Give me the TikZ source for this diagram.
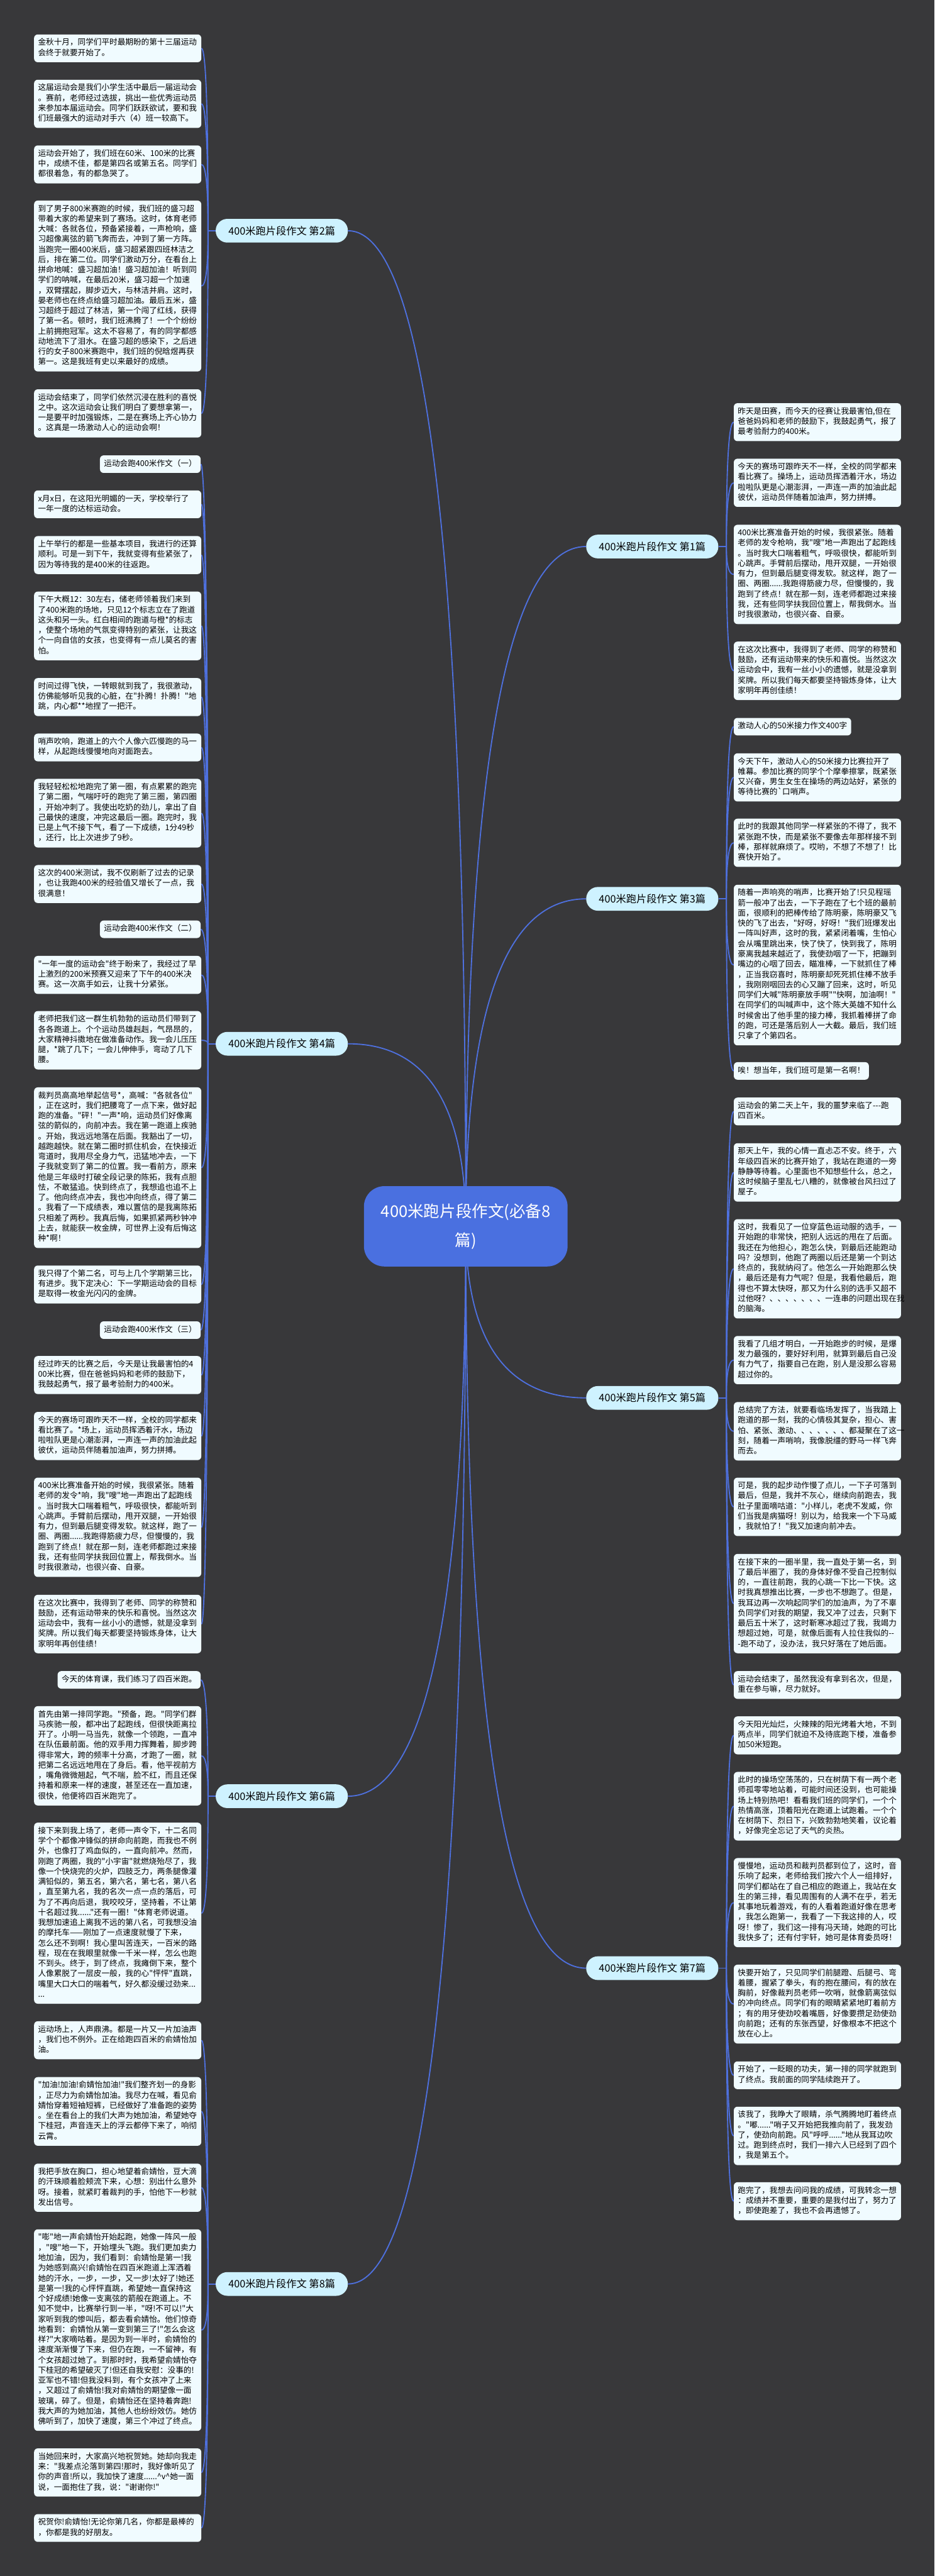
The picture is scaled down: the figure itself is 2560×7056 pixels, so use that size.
\documentclass[tikz,border=0pt]{standalone}
\usepackage{fontspec}
\newfontfamily\cjk{Noto Sans CJK SC}
\usetikzlibrary{calc}
\definecolor{bgc}{RGB}{56,56,58}
\definecolor{leafc}{RGB}{240,251,255}
\definecolor{brc}{RGB}{206,242,255}
\definecolor{linec}{RGB}{78,112,222}
\definecolor{ctrc}{RGB}{74,112,224}
\pgfdeclarelayer{bg}
\pgfsetlayers{bg,main}
\newcommand\myqc[2]{\draw[conn] (#1) .. controls ($(#1)!2/3!(#1 |- #2)$) and ($(#2)!2/3!(#1 |- #2)$) .. (#2);}
\tikzset{
  leaf/.style={fill=leafc, rounded corners=5pt, inner xsep=5.5pt, inner ysep=5pt,
    text width=218pt, align=left, anchor=north west,
    font=\cjk\fontsize{10.875}{14}\selectfont,
    execute at begin node=\strut, execute at end node=\strut},
  ttl/.style={fill=leafc, rounded corners=5pt, inner xsep=5.5pt, inner ysep=5pt,
    font=\cjk\fontsize{10.875}{14}\selectfont,
    execute at begin node=\strut, execute at end node=\strut},
  br/.style={fill=brc, rounded corners=16pt, minimum width=181pt, minimum height=32.5pt,
    inner sep=0pt, font=\cjk\fontsize{14}{16}\selectfont},
  ctrn/.style={fill=ctrc, rounded corners=28pt, text=white, align=center,
    minimum width=279pt, minimum height=110pt, inner sep=0pt,
    font=\cjk\fontsize{22}{40}\selectfont},
  conn/.style={draw=linec, line width=1.6pt},
}
\begin{document}
\begin{tikzpicture}[x=0.5pt,y=-0.5pt]
\useasboundingbox (0,0) rectangle (2560,7056);
% ---------- center and branches
\node[ctrn] (ctr) at (1276,3359) {400米跑片段作文(必备8\\篇)};
\node[br] (b2) at (772,632) {400米跑片段作文 第2篇};
\node[br] (b4) at (772,2859) {400米跑片段作文 第4篇};
\node[br] (b6) at (772,4920) {400米跑片段作文 第6篇};
\node[br] (b8) at (772,6256) {400米跑片段作文 第8篇};
\node[br] (b1) at (1787,1497) {400米跑片段作文 第1篇};
\node[br] (b3) at (1787,2462) {400米跑片段作文 第3篇};
\node[br] (b5) at (1787,3829) {400米跑片段作文 第5篇};
\node[br] (b7) at (1787,5391) {400米跑片段作文 第7篇};
\coordinate (s2) at (570,632);
\coordinate (s4) at (570,2859);
\coordinate (s6) at (570,4920);
\coordinate (s8) at (570,6256);
\coordinate (s1) at (1990,1497);
\coordinate (s3) at (1990,2462);
\coordinate (s5) at (1990,3829);
\coordinate (s7) at (1990,5391);
% ---------- left column
\node[leaf] (l1) at (93,94) {金秋十月，同学们平时最期盼的第十三届运动\\会终于就要开始了。};
\node[leaf] (l2) at (93,218) {这届运动会是我们小学生活中最后一届运动会\\。赛前，老师经过选拔，挑出一些优秀运动员\\来参加本届运动会。同学们跃跃欲试，要和我\\们班最强大的运动对手六（4）班一较高下。};
\node[leaf] (l3) at (93,398) {运动会开始了，我们班在60米、100米的比赛\\中，成绩不佳，都是第四名或第五名。同学们\\都很着急，有的都急哭了。};
\node[leaf] (l4) at (93,549) {到了男子800米赛跑的时候，我们班的盛习超\\带着大家的希望来到了赛场。这时，体育老师\\大喊：各就各位，预备紧接着，一声枪响，盛\\习超像离弦的箭飞奔而去，冲到了第一方阵。\\当跑完一圈400米后，盛习超紧跟四班林洁之\\后，排在第二位。同学们激动万分，在看台上\\拼命地喊：盛习超加油！盛习超加油！听到同\\学们的呐喊，在最后20米，盛习超一个加速\\，双臂摆起，脚步迈大，与林洁并肩。这时，\\晏老师也在终点给盛习超加油。最后五米，盛\\习超终于超过了林洁，第一个闯了红线，获得\\了第一名。顿时，我们班沸腾了！一个个纷纷\\上前拥抱冠军。这太不容易了，有的同学都感\\动地流下了泪水。在盛习超的感染下，之后进\\行的女子800米赛跑中，我们班的倪晗煜再获\\第一。这是我班有史以来最好的成绩。};
\node[leaf] (l5) at (93,1066) {运动会结束了，同学们依然沉浸在胜利的喜悦\\之中。这次运动会让我们明白了要想拿第一，\\一是要平时加强锻炼，二是在赛场上齐心协力\\。这真是一场激动人心的运动会啊！};
\node[ttl,anchor=north east] (l6) at (550,1247) {运动会跑400米作文（一）};
\node[leaf] (l7) at (93,1343) {x月x日，在这阳光明媚的一天，学校举行了\\一年一度的达标运动会。};
\node[leaf] (l8) at (93,1468) {上午举行的都是一些基本项目，我进行的还算\\顺利。可是一到下午，我就变得有些紧张了，\\因为等待我的是400米的往返跑。};
\node[leaf] (l9) at (93,1620) {下午大概12：30左右，储老师领着我们来到\\了400米跑的场地，只见12个标志立在了跑道\\这头和另一头。红白相间的跑道与橙*的标志\\，使整个场地的气氛变得特别的紧张，让我这\\个一向自信的女孩，也变得有一点儿莫名的害\\怕。};
\node[leaf] (l10) at (93,1857) {时间过得飞快，一转眼就到我了，我很激动，\\仿佛能够听见我的心脏，在"扑腾！扑腾！"地\\跳，内心都**地捏了一把汗。};
\node[leaf] (l11) at (93,2009) {哨声吹响，跑道上的六个人像六匹慢跑的马一\\样，从起跑线慢慢地向对面跑去。};
\node[leaf] (l12) at (93,2133) {我轻轻松松地跑完了第一圈，有点累累的跑完\\了第二圈，气喘吁吁的跑完了第三圈，第四圈\\，开始冲刺了。我使出吃奶的劲儿，拿出了自\\己最快的速度，冲完这最后一圈。跑完时，我\\已是上气不接下气，看了一下成绩，1分49秒\\，还行，比上次进步了9秒。};
\node[leaf] (l13) at (93,2369) {这次的400米测试，我不仅刷新了过去的记录\\，也让我跑400米的经验值又增长了一点，我\\很满意！};
\node[ttl,anchor=north east] (l14) at (550,2521) {运动会跑400米作文（二）};
\node[leaf] (l15) at (93,2618) {"一年一度的运动会"终于盼来了，我经过了早\\上激烈的200米预赛又迎来了下午的400米决\\赛。这一次高手如云，让我十分紧张。};
\node[leaf] (l16) at (93,2769) {老师把我们这一群生机勃勃的运动员们带到了\\各各跑道上。个个运动员雄赳赳，气昂昂的，\\大家精神抖擞地在做准备动作。我一会儿压压\\腿，*跳了几下；一会儿伸伸手，弯动了几下\\腰。};
\node[leaf] (l17) at (93,2978) {裁判员高高地举起信号*，高喊："各就各位"\\，正在这时，我们把腰弯了一点下来，做好起\\跑的准备。"砰！"一声*响，运动员们好像离\\弦的箭似的，向前冲去。我在第一跑道上疾驰\\。开始，我远远地落在后面。我豁出了一切，\\越跑越快。就在第二圈时抓住机会，在快接近\\弯道时，我用尽全身力气，迅猛地冲去，一下\\子我就变到了第二的位置。我一看前方，原来\\他是三年级时打破全段记录的陈拓，我有点胆\\怯，不敢猛追。快到终点了，我想追也追不上\\了。他向终点冲去，我也冲向终点，得了第二\\。我看了一下成绩表，难以置信的是我离陈拓\\只相差了两秒。我真后悔，如果抓紧两秒钟冲\\上去，就能获一枚金牌，可世界上没有后悔这\\种*啊！};
\node[leaf] (l18) at (93,3466) {我只得了个第二名，可与上几个学期第三比，\\有进步。我下定决心：下一学期运动会的目标\\是取得一枚金光闪闪的金牌。};
\node[ttl,anchor=north east] (l19) at (550,3619) {运动会跑400米作文（三）};
\node[leaf] (l20) at (93,3714) {经过昨天的比赛之后，今天是让我最害怕的4\\00米比赛，但在爸爸妈妈和老师的鼓励下，\\我鼓起勇气，报了最考验耐力的400米。};
\node[leaf] (l21) at (93,3867) {今天的赛场可跟昨天不一样，全校的同学都来\\看比赛了。*场上，运动员挥洒着汗水，场边\\啦啦队更是心潮澎湃，一声连一声的加油此起\\彼伏，运动员伴随着加油声，努力拼搏。};
\node[leaf] (l22) at (93,4047) {400米比赛准备开始的时候，我很紧张。随着\\老师的发令*响，我"嗖"地一声跑出了起跑线\\。当时我大口喘着粗气，呼吸很快，都能听到\\心跳声。手臂前后摆动，甩开双腿，一开始很\\有力，但到最后腿变得发软。就这样，跑了一\\圈、两圈......我跑得筋疲力尽，但慢慢的，我\\跑到了终点！就在那一刻，连老师都跑过来接\\我，还有些同学扶我回位置上，帮我倒水。当\\时我很激动，也很兴奋、自豪。};
\node[leaf] (l23) at (93,4368) {在这次比赛中，我得到了老师、同学的称赞和\\鼓励，还有运动带来的快乐和喜悦。当然这次\\运动会中，我有一丝小小的遗憾，就是没拿到\\奖牌。所以我们每天都要坚持锻炼身体，让大\\家明年再创佳绩！};
\node[ttl,anchor=north east] (l24) at (550,4577) {今天的体育课，我们练习了四百米跑。};
\node[leaf] (l25) at (93,4673) {首先由第一排同学跑。"预备，跑。"同学们群\\马疾驰一般，都冲出了起跑线，但很快距离拉\\开了。小明一马当先，就像一个领跑，一直冲\\在队伍最前面。他的双手用力挥舞着，脚步跨\\得非常大，跨的频率十分高，才跑了一圈，就\\把第二名远远地甩在了身后。看，他平视前方\\，嘴角微微翘起，气不喘，脸不红，而且还保\\持着和原来一样的速度，甚至还在一直加速，\\很快，他便将四百米跑完了。};
\node[leaf] (l26) at (93,4992) {接下来到我上场了，老师一声令下，十二名同\\学个个都像冲锋似的拼命向前跑，而我也不例\\外，也像打了鸡血似的，一直向前冲。然而，\\刚跑了两圈，我的"小宇宙"就燃烧殆尽了，我\\像一个快烧完的火炉，四肢乏力，两条腿像灌\\满铅似的，第五名，第六名，第七名，第八名\\，直至第九名，我的名次一点一点的落后，可\\为了不再向后退，我咬咬牙，坚持着，不让第\\十名超过我......"还有一圈！"体育老师说道。\\我想加速追上离我不远的第八名，可我想没油\\的摩托车——刚加了一点速度就慢了下来，\\怎么还不到啊！我心里叫苦连天，一百米的路\\程，现在在我眼里就像一千米一样，怎么也跑\\不到头。终于，到了终点，我瘫倒下来，整个\\人像累脱了一层皮一般，我的心"怦怦"直跳，\\嘴里大口大口的喘着气，好久都没缓过劲来...\\...};
\node[leaf] (l27) at (93,5536) {运动场上，人声鼎沸。都是一片又一片加油声\\，我们也不例外。正在给跑四百米的俞婧怡加\\油。};
\node[leaf] (l28) at (93,5689) {"加油!加油!俞婧怡加油!"我们整齐划一的身影\\，正尽力为俞婧怡加油。我尽力在喊，看见俞\\婧怡穿着短袖短裤，已经做好了准备跑的姿势\\。坐在看台上的我们大声为她加油，希望她夺\\下桂冠，声音连天上的浮云都停下来了，响彻\\云霄。};
\node[leaf] (l29) at (93,5926) {我把手放在胸口，担心地望着俞婧怡，豆大滴\\的汗珠顺着脸颊流下来，心想：别出什么意外\\呀。接着，就紧盯着裁判的手，怕他下一秒就\\发出信号。};
\node[leaf] (l30) at (93,6106) {"嘭"地一声俞婧怡开始起跑，她像一阵风一般\\，"嗖"地一下，开始埋头飞跑。我们更加卖力\\地加油，因为，我们看到：俞婧怡是第一!我\\为她感到高兴!俞婧怡在四百米跑道上浑洒着\\她的汗水，一步，一步，又一步!太好了!她还\\是第一!我的心怦怦直跳，希望她一直保持这\\个好成绩!她像一支离弦的箭般在跑道上。不\\知不觉中，比赛举行到一半，"呀!不可以!"大\\家听到我的惨叫后，都去看俞婧怡。他们惊奇\\地看到：俞婧怡从第一变到第三了!"怎么会这\\样?"大家嘀咕着。是因为到一半时，俞婧怡的\\速度渐渐慢了下来，但仍在跑，一不留神，有\\个女孩超过她了。到那时时，我希望俞婧怡夺\\下桂冠的希望破灭了!但还自我安慰：没事的!\\亚军也不错!但我没料到，有个女孩冲了上来\\，又超过了俞婧怡!我对俞婧怡的期望像一面\\玻璃，碎了。但是，俞婧怡还在坚持着奔跑!\\我大声的为她加油，其他人也纷纷效仿。她仿\\佛听到了，加快了速度，第三个冲过了终点。};
\node[leaf] (l31) at (93,6706) {当她回来时，大家高兴地祝贺她。她却向我走\\来："我差点沦落到第四!那时，我好像听见了\\你的声音!所以，我加快了速度......\textasciicircum v\textasciicircum 她一面\\说，一面抱住了我，说："谢谢你!"};
\node[leaf] (l32) at (93,6886) {祝贺你!俞婧怡!无论你第几名，你都是最棒的\\，你都是我的好朋友。};
% ---------- right column
\node[leaf] (r1) at (2010,1104) {昨天是田赛，而今天的径赛让我最害怕,但在\\爸爸妈妈和老师的鼓励下，我鼓起勇气，报了\\最考验耐力的400米。};
\node[leaf] (r2) at (2010,1256) {今天的赛场可跟昨天不一样，全校的同学都来\\看比赛了。操场上，运动员挥洒着汗水，场边\\啦啦队更是心潮澎湃，一声连一声的加油此起\\彼伏，运动员伴随着加油声，努力拼搏。};
\node[leaf] (r3) at (2010,1437) {400米比赛准备开始的时候，我很紧张。随着\\老师的发令枪响，我"嗖"地一声跑出了起跑线\\。当时我大口喘着粗气，呼吸很快，都能听到\\心跳声。手臂前后摆动，甩开双腿，一开始很\\有力，但到最后腿变得发软。就这样，跑了一\\圈、两圈......我跑得筋疲力尽，但慢慢的，我\\跑到了终点！就在那一刻，连老师都跑过来接\\我，还有些同学扶我回位置上，帮我倒水。当\\时我很激动，也很兴奋、自豪。};
\node[leaf] (r4) at (2010,1757) {在这次比赛中，我得到了老师、同学的称赞和\\鼓励，还有运动带来的快乐和喜悦。当然这次\\运动会中，我有一丝小小的遗憾，就是没拿到\\奖牌。所以我们每天都要坚持锻炼身体，让大\\家明年再创佳绩！};
\node[ttl,anchor=north west] (r5) at (2010,1966) {激动人心的50米接力作文400字};
\node[leaf] (r6) at (2010,2063) {今天下午，激动人心的50米接力比赛拉开了\\帷幕。参加比赛的同学个个摩拳擦掌，既紧张\\又兴奋，男生女生在操场的两边站好，紧张的\\等待比赛的`口哨声。};
\node[leaf] (r7) at (2010,2242) {此时的我跟其他同学一样紧张的不得了，我不\\紧张跑不快，而是紧张不要像去年那样接不到\\棒，那样就麻烦了。哎哟，不想了不想了！比\\赛快开始了。};
\node[leaf] (r8) at (2010,2423) {随着一声响亮的哨声，比赛开始了!只见程瑶\\箭一般冲了出去，一下子跑在了七个班的最前\\面，很顺利的把棒传给了陈明豪，陈明豪又飞\\快的飞了出去，"好呀，好呀！"我们班爆发出\\一阵叫好声，这时的我，紧紧闭着嘴，生怕心\\会从嘴里跳出来，快了快了，快到我了，陈明\\豪离我越来越近了，我使劲咽了一下，把蹦到\\嘴边的心咽了回去，瞄准棒，一下就抓住了棒\\，正当我窃喜时，陈明豪却死死抓住棒不放手\\，我刚刚咽回去的心又蹦了回来，这时，听见\\同学们大喊"陈明豪放手啊""快啊，加油啊！"\\在同学们的叫喊声中，这个陈大英雄不知什么\\时候舍出了他手里的接力棒，我抓着棒拼了命\\的跑，可还是落后别人一大截。最后，我们班\\只拿了个第四名。};
\node[ttl,anchor=north west] (r9) at (2010,2909) {唉！想当年，我们班可是第一名啊！};
\node[leaf] (r10) at (2010,3006) {运动会的第二天上午，我的噩梦来临了---跑\\四百米。};
\node[leaf] (r11) at (2010,3131) {那天上午，我的心情一直忐忑不安。终于，六\\年级四百米的比赛开始了，我站在跑道的一旁\\静静等待着。心里面也不知想些什么，总之，\\这时候脑子里乱七八糟的，就像被台风扫过了\\屋子。};
\node[leaf] (r12) at (2010,3339) {这时，我看见了一位穿蓝色运动服的选手，一\\开始跑的非常快，把别人远远的甩在了后面。\\我还在为他担心，跑怎么快，到最后还能跑动\\吗？没想到，他跑了两圈以后还是第一个到达\\终点的，我就纳闷了。他怎么一开始跑那么快\\，最后还是有力气呢？但是，我看他最后，跑\\得也不算太快呀，那又为什么别的选手又超不\\过他呀？、、、、、、、一连串的问题出现在我\\的脑海。};
\node[leaf] (r13) at (2010,3659) {我看了几组才明白，一开始跑步的时候，是爆\\发力最强的，要好好利用，就算到最后自己没\\有力气了，指要自己在跑，别人是没那么容易\\超过你的。};
\node[leaf] (r14) at (2010,3840) {总结完了方法，就要看临场发挥了，当我踏上\\跑道的那一刻，我的心情极其复杂，担心、害\\怕、紧张、激动、、、、、、、都凝聚在了这一\\刻，随着一声哨响，我像脱缰的野马一样飞奔\\而去。};
\node[leaf] (r15) at (2010,4047) {可是，我的起步动作慢了点儿，一下子可落到\\最后，但是，我并不灰心，继续向前跑去，我\\肚子里面嘀咕道："小样儿，老虎不发威，你\\们当我是病猫呀！别以为，给我来一个下马威\\，我就怕了！"我又加速向前冲去。};
\node[leaf] (r16) at (2010,4256) {在接下来的一圈半里，我一直处于第一名，到\\了最后半圈了，我的身体好像不受自己控制似\\的，一直往前跑，我的心跳一下比一下快。这\\时我真想推出比赛，一步也不想跑了。但是，\\我耳边再一次响起同学们的加油声，为了不辜\\负同学们对我的期望，我又冲了过去，只剩下\\最后五十米了，这时靳寒冰超过了我，我竭力\\想超过她，可是，就像后面有人拉住我似的--\\-跑不动了，没办法，我只好落在了她后面。};
\node[leaf] (r17) at (2010,4577) {运动会结束了，虽然我没有拿到名次，但是，\\重在参与嘛，尽力就好。};
\node[leaf] (r18) at (2010,4701) {今天阳光灿烂，火辣辣的阳光烤着大地，不到\\两点半，同学们就迫不及待底跑下楼，准备参\\加50米短跑。};
\node[leaf] (r19) at (2010,4853) {此时的操场空荡荡的，只在树荫下有一两个老\\师孤零零地站着，可能时间还没到，也可能操\\场上特别热吧！看看我们班的同学们，一个个\\热情高涨，顶着阳光在跑道上试跑着。一个个\\在树荫下、烈日下，兴致勃勃地笑着，议论着\\，好像完全忘记了天气的炎热。};
\node[leaf] (r20) at (2010,5089) {慢慢地，运动员和裁判员都到位了，这时，音\\乐响了起来，老师给我们按六个人一组排好，\\同学们都站在了自己相应的跑道上，我站在女\\生的第三排，看见周围有的人满不在乎，若无\\其事地玩着游戏，有的人看着跑道好像在思考\\，我怎么跑第一，我看了一下我这排的人，哎\\呀！惨了，我们这一排有冯天琦，她跑的可比\\我快多了；还有付宇轩，她可是体育委员呀！};
\node[leaf] (r21) at (2010,5381) {快要开始了，只见同学们前腿蹬、后腿弓、弯\\着腰，握紧了拳头，有的抱在腰间，有的放在\\胸前，好像裁判员老师一吹哨，就像箭离弦似\\的冲向终点。同学们有的眼睛紧紧地盯着前方\\；有的用牙使劲咬着嘴唇，好像要攒足劲使劲\\向前跑；还有的东张西望，好像根本不把这个\\放在心上。};
\node[leaf] (r22) at (2010,5646) {开始了，一眨眼的功夫，第一排的同学就跑到\\了终点。我前面的同学陆续跑开了。};
\node[leaf] (r23) at (2010,5770) {该我了，我睁大了眼睛，杀气腾腾地盯着终点\\。"嘟......"哨子又开始把我推向前了，我发劲\\了，使劲向前跑。风"呼呼......"地从我耳边吹\\过。跑到终点时，我们一排六人已经到了四个\\，我是第五个。};
\node[leaf] (r24) at (2010,5977) {跑完了，我想去问问我的成绩，可我转念一想\\：成绩并不重要，重要的是我付出了，努力了\\，即使跑差了，我也不会再遗憾了。};
% ---------- connectors
\begin{pgfonlayer}{bg}
\fill[bgc] (0,0) rectangle (2560,7056);
\foreach \b in {b2,b4,b6,b8} {\myqc{ctr.center}{\b.east}}
\foreach \b in {b1,b3,b5,b7} {\myqc{ctr.center}{\b.west}}
\foreach \n in {2,4,6,8} {\draw[conn] (b\n.west) -- (s\n);}
\foreach \n in {1,3,5,7} {\draw[conn] (b\n.east) -- (s\n);}
\foreach \l in {l1,l2,l3,l4,l5} {\myqc{s2}{\l.east}}
\foreach \l in {l6,l7,l8,l9,l10,l11,l12,l13,l14,l15,l16,l17,l18,l19,l20,l21,l22,l23} {\myqc{s4}{\l.east}}
\foreach \l in {l24,l25,l26} {\myqc{s6}{\l.east}}
\foreach \l in {l27,l28,l29,l30,l31,l32} {\myqc{s8}{\l.east}}
\foreach \r in {r1,r2,r3,r4} {\myqc{s1}{\r.west}}
\foreach \r in {r5,r6,r7,r8,r9} {\myqc{s3}{\r.west}}
\foreach \r in {r10,r11,r12,r13,r14,r15,r16,r17} {\myqc{s5}{\r.west}}
\foreach \r in {r18,r19,r20,r21,r22,r23,r24} {\myqc{s7}{\r.west}}
\end{pgfonlayer}
\end{tikzpicture}
\end{document}
